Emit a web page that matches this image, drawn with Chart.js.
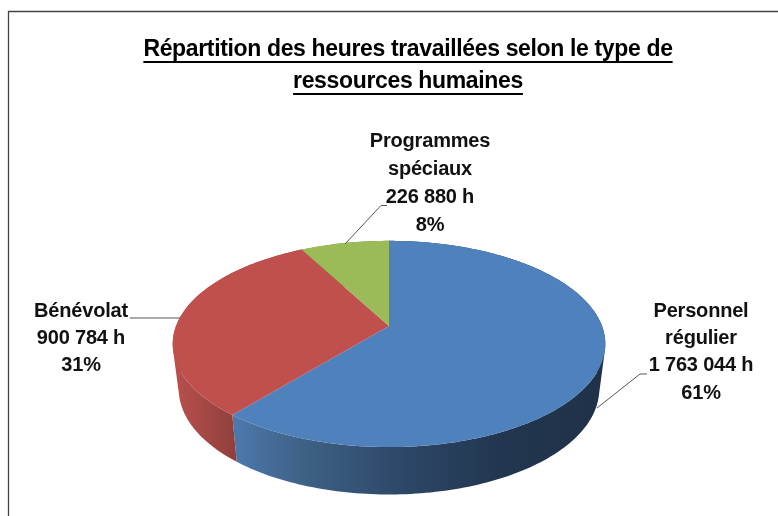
<!DOCTYPE html>
<html lang="fr">
<head>
<meta charset="utf-8">
<title>Répartition des heures travaillées</title>
<script src="https://cdn.jsdelivr.net/npm/chart.js@4"></script>
<style>html,body{margin:0;padding:0;background:#fff}canvas{display:block}</style>
</head>
<body>
<canvas id="c" width="778" height="516"></canvas>
<script>
const titleLines = ['Répartition des heures travaillées selon le type de', 'ressources humaines'];
const categories = [['Personnel', 'régulier'], ['Bénévolat'], ['Programmes', 'spéciaux']];
const hours = [1763044, 900784, 226880];
const hourLabels = ['1 763 044 h', '900 784 h', '226 880 h'];
const percentLabels = ['61%', '31%', '8%'];
const topColors = ['#4f81bd', '#c0504d', '#9bbb59'];
const sideStops = [
  [[236, '#4d78ab'], [300, '#3f6287'], [400, '#2d4868'], [500, '#22364f'], [600, '#1f3249']],
  [[175, '#b8504c'], [237, '#8f3f3c']],
  [[300, '#7d9647'], [390, '#6d8340']]
];
const labelAnchors = [{x: 701, y: 311, gap: 27.4}, {x: 81, y: 311, gap: 27.4}, {x: 430, y: 141.5, gap: 28}];
const leaders = [
  [[647, 374], [640, 374], [597, 408]],
  [[130, 318], [180, 318]],
  [[387, 205.5], [381, 205.5], [345, 244]]
];

const PERSP = 0.174;
const TITLE_SHIFT = 19;
const levels = [
  {r: 1, y: 100 / 213, drop: 0},
  {r: 207 / 213, y: 102 / 213, drop: 45}
];
function project(el, angle, lvl) {
  const u = Math.cos(angle), v = -Math.sin(angle), w = 1 + PERSP * v, L = levels[lvl];
  return [el.x + el.outerRadius * L.r * u / w, el.y + L.drop - el.outerRadius * L.y * v / w];
}
function anglesOf(el) {
  const out = [], n = Math.max(2, Math.ceil((el.endAngle - el.startAngle) / 0.02));
  for (let i = 0; i <= n; i++) out.push(el.startAngle + (el.endAngle - el.startAngle) * i / n);
  return out;
}
function drawTop(ctx) {
  const el = this;
  ctx.save();
  ctx.beginPath();
  ctx.moveTo(el.x, el.y);
  anglesOf(el).forEach(a => { const p = project(el, a, 0); ctx.lineTo(p[0], p[1]); });
  ctx.closePath();
  ctx.fillStyle = el.options.backgroundColor;
  ctx.fill();
  ctx.restore();
}
const pie3d = {
  id: 'pie3d',
  afterLayout(chart) {
    chart.titleBlock.left += TITLE_SHIFT;
    chart.titleBlock.right += TITLE_SHIFT;
  },
  beforeDraw(chart) {
    const ctx = chart.ctx;
    ctx.save();
    ctx.strokeStyle = '#444';
    ctx.lineWidth = 1.3;
    ctx.beginPath();
    ctx.moveTo(8.5, 516);
    ctx.lineTo(8.5, 11.5);
    ctx.lineTo(778, 11.5);
    ctx.stroke();
    ctx.restore();
    ctx.letterSpacing = '-0.35px';
  },
  beforeDatasetsDraw(chart) {
    const ctx = chart.ctx, meta = chart.getDatasetMeta(0);
    ctx.letterSpacing = '0px';
    meta.data.forEach((el, i) => {
      el.draw = drawTop;
      const stops = sideStops[i], a0 = stops[0][0], a1 = stops[stops.length - 1][0];
      const g = ctx.createLinearGradient(a0, 0, a1, 0);
      stops.forEach(s => g.addColorStop((s[0] - a0) / (a1 - a0), s[1]));
      ctx.save();
      ctx.fillStyle = g;
      ctx.beginPath();
      const as = anglesOf(el);
      for (let k = 0; k < as.length - 1; k++) {
        let quad = [project(el, as[k], 0), project(el, as[k + 1], 0), project(el, as[k + 1], 1), project(el, as[k], 1)];
        let area = 0;
        quad.forEach((p, j) => { const q = quad[(j + 1) % 4]; area += p[0] * q[1] - q[0] * p[1]; });
        if (area < 0) quad = quad.reverse();
        quad.forEach((p, j) => j ? ctx.lineTo(p[0], p[1]) : ctx.moveTo(p[0], p[1]));
        ctx.closePath();
      }
      ctx.fill('nonzero');
      ctx.restore();
    });
  },
  afterDatasetsDraw(chart) {
    const ctx = chart.ctx;
    ctx.save();
    ctx.strokeStyle = '#555';
    ctx.lineWidth = 1;
    leaders.forEach(pts => {
      ctx.beginPath();
      pts.forEach((p, i) => i ? ctx.lineTo(p[0], p[1]) : ctx.moveTo(p[0], p[1]));
      ctx.stroke();
    });
    ctx.fillStyle = '#111';
    ctx.font = 'bold 20px "Liberation Sans"';
    ctx.letterSpacing = '-0.2px';
    ctx.textAlign = 'center';
    ctx.textBaseline = 'middle';
    categories.forEach((cat, i) => {
      const lines = [...cat, hourLabels[i], percentLabels[i]], A = labelAnchors[i];
      lines.forEach((t, k) => ctx.fillText(t, A.x, A.y + k * A.gap));
    });
    ctx.strokeStyle = '#000';
    ctx.lineWidth = 2;
    const t = chart.titleBlock, cx = (t.left + t.right) / 2, f = chart.options.plugins.title.font;
    ctx.font = f.weight + ' ' + f.size + 'px "Liberation Sans"';
    ctx.letterSpacing = '-0.35px';
    titleLines.forEach((line, i) => {
      const w = ctx.measureText(line).width, y = 62 + i * 32;
      ctx.beginPath();
      ctx.moveTo(cx - w / 2, y);
      ctx.lineTo(cx + w / 2, y);
      ctx.stroke();
    });
    ctx.restore();
    ctx.letterSpacing = '0px';
  }
};

new Chart(document.getElementById('c'), {
  type: 'pie',
  data: {
    labels: categories.map(c => c.join(' ')),
    datasets: [{data: hours, backgroundColor: topColors, borderWidth: 0}]
  },
  options: {
    responsive: false,
    animation: false,
    radius: 213,
    layout: {padding: {top: 0, right: 0, bottom: 0, left: 0}},
    plugins: {
      legend: {display: false},
      tooltip: {enabled: false},
      title: {
        display: true,
        text: titleLines,
        color: '#000',
        font: {family: '"Liberation Sans"', size: 23, weight: 'bold', lineHeight: 32 / 23},
        padding: {top: 34, bottom: 38}
      }
    }
  },
  plugins: [pie3d]
});
</script>
</body>
</html>
